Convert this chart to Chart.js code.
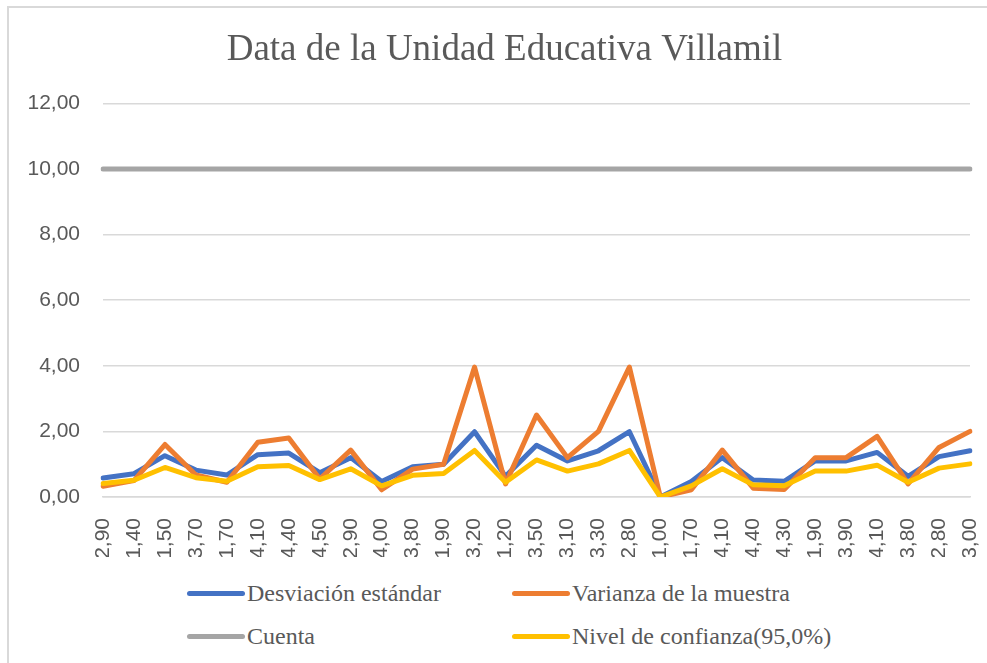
<!DOCTYPE html>
<html>
<head>
<meta charset="utf-8">
<script src="https://cdn.jsdelivr.net/npm/chart.js@4/dist/chart.umd.min.js"></script>
<style>
  body { margin: 0; background: #fff; }
  #wrap { position: relative; width: 987px; height: 663px; overflow: hidden; }
  #frame { position: absolute; left: 7px; top: 6px; width: 990px; height: 670px;
           border-left: 2px solid #d9d9d9; border-top: 2px solid #d9d9d9; }
  #chart { position: absolute; left: 0; top: 0; }
  #legend { position: absolute; left: 187px; top: 576px; display: grid;
            grid-template-columns: 325px 325px; row-gap: 9px; }
  .item { display: flex; align-items: center; height: 34px;
          font-family: "Liberation Serif", serif; font-size: 24px; color: #595959; }
  .swatch { width: 58px; height: 5px; border-radius: 3px; margin-right: 2px; }
</style>
</head>
<body>
<div id="wrap">
  <div id="frame"></div>
  <canvas id="chart" width="987" height="560"></canvas>
  <div id="legend"></div>
</div>
<script>
const labels = ["2,90", "1,40", "1,50", "3,70", "1,70", "4,10", "4,40", "4,50", "2,90", "4,00",
  "3,80", "1,90", "3,20", "1,20", "3,50", "3,10", "3,30", "2,80", "1,00", "1,70",
  "4,10", "4,40", "4,30", "1,90", "3,90", "4,10", "3,80", "2,80", "3,00"];

const desviacion = [0.58, 0.71, 1.26, 0.82, 0.67, 1.29, 1.34, 0.74, 1.20, 0.47,
  0.92, 1.00, 1.99, 0.63, 1.58, 1.10, 1.41, 1.99, 0, 0.47,
  1.20, 0.52, 0.48, 1.10, 1.10, 1.36, 0.63, 1.23, 1.41];

const varianza = [0.33, 0.50, 1.60, 0.67, 0.45, 1.67, 1.80, 0.55, 1.43, 0.22,
  0.85, 1.00, 3.96, 0.40, 2.50, 1.20, 2.00, 3.96, 0, 0.22,
  1.43, 0.27, 0.23, 1.20, 1.20, 1.85, 0.40, 1.51, 2.00];

const cuenta = [10, 10, 10, 10, 10, 10, 10, 10, 10, 10,
  10, 10, 10, 10, 10, 10, 10, 10, 10, 10,
  10, 10, 10, 10, 10, 10, 10, 10, 10];

const confianza = [0.41, 0.51, 0.90, 0.59, 0.48, 0.92, 0.96, 0.53, 0.86, 0.34,
  0.66, 0.72, 1.42, 0.45, 1.13, 0.79, 1.01, 1.42, 0, 0.34,
  0.86, 0.37, 0.34, 0.79, 0.79, 0.97, 0.45, 0.88, 1.01];

const yTicks = [0, 2, 4, 6, 8, 10, 12];

function makeSet(label, data, color, order) {
  return {
    label: label,
    data: data,
    borderColor: color,
    backgroundColor: color,
    borderWidth: 5,
    pointRadius: 0,
    tension: 0,
    borderJoinStyle: "round",
    borderCapStyle: "round",
    fill: false,
    order: order
  };
}

const chart = new Chart(document.getElementById("chart"), {
  type: "line",
  data: {
    labels: labels,
    datasets: [
      makeSet("Desviación estándar", desviacion, "#4472C4", 4),
      makeSet("Varianza de la muestra", varianza, "#ED7D31", 3),
      makeSet("Cuenta", cuenta, "#A5A5A5", 2),
      makeSet("Nivel de confianza(95,0%)", confianza, "#FFC000", 1)
    ]
  },
  options: {
    responsive: false,
    animation: false,
    layout: { padding: { left: 22, right: 0, top: 0, bottom: 3 } },
    plugins: {
      legend: { display: false },
      tooltip: { enabled: false },
      title: {
        display: true,
        text: "Data de la Unidad Educativa Villamil",
        color: "#595959",
        font: { family: "Liberation Serif", size: 37, weight: "normal" },
        padding: { top: 28, bottom: 31 }
      }
    },
    scales: {
      x: {
        grid: { display: false, drawTicks: false },
        border: { display: true, color: "#d9d9d9", width: 1.5 },
        ticks: {
          color: "#595959",
          font: { family: "Liberation Sans", size: 21 },
          minRotation: 90,
          maxRotation: 90,
          autoSkip: false,
          padding: 21
        },
        afterFit: s => { s.height = 60; s.paddingLeft = 0; s.paddingRight = 17; }
      },
      y: {
        min: 0,
        max: 12,
        afterBuildTicks: s => { s.ticks = yTicks.map(v => ({ value: v })); },
        grid: { color: "#d9d9d9", lineWidth: 1.5, drawTicks: false },
        border: { display: false },
        ticks: {
          color: "#595959",
          font: { family: "Liberation Sans", size: 21 },
          padding: 23,
          callback: v => v.toFixed(2).replace(".", ",")
        },
        afterFit: s => { s.width = 81; }
      }
    }
  }
});

// legend in two columns, built from the datasets
const legendDiv = document.getElementById("legend");
chart.data.datasets.forEach(ds => {
  const item = document.createElement("div");
  item.className = "item";
  item.innerHTML = `<span class="swatch" style="background:${ds.borderColor}"></span>${ds.label}`;
  legendDiv.appendChild(item);
});
</script>
</body>
</html>
